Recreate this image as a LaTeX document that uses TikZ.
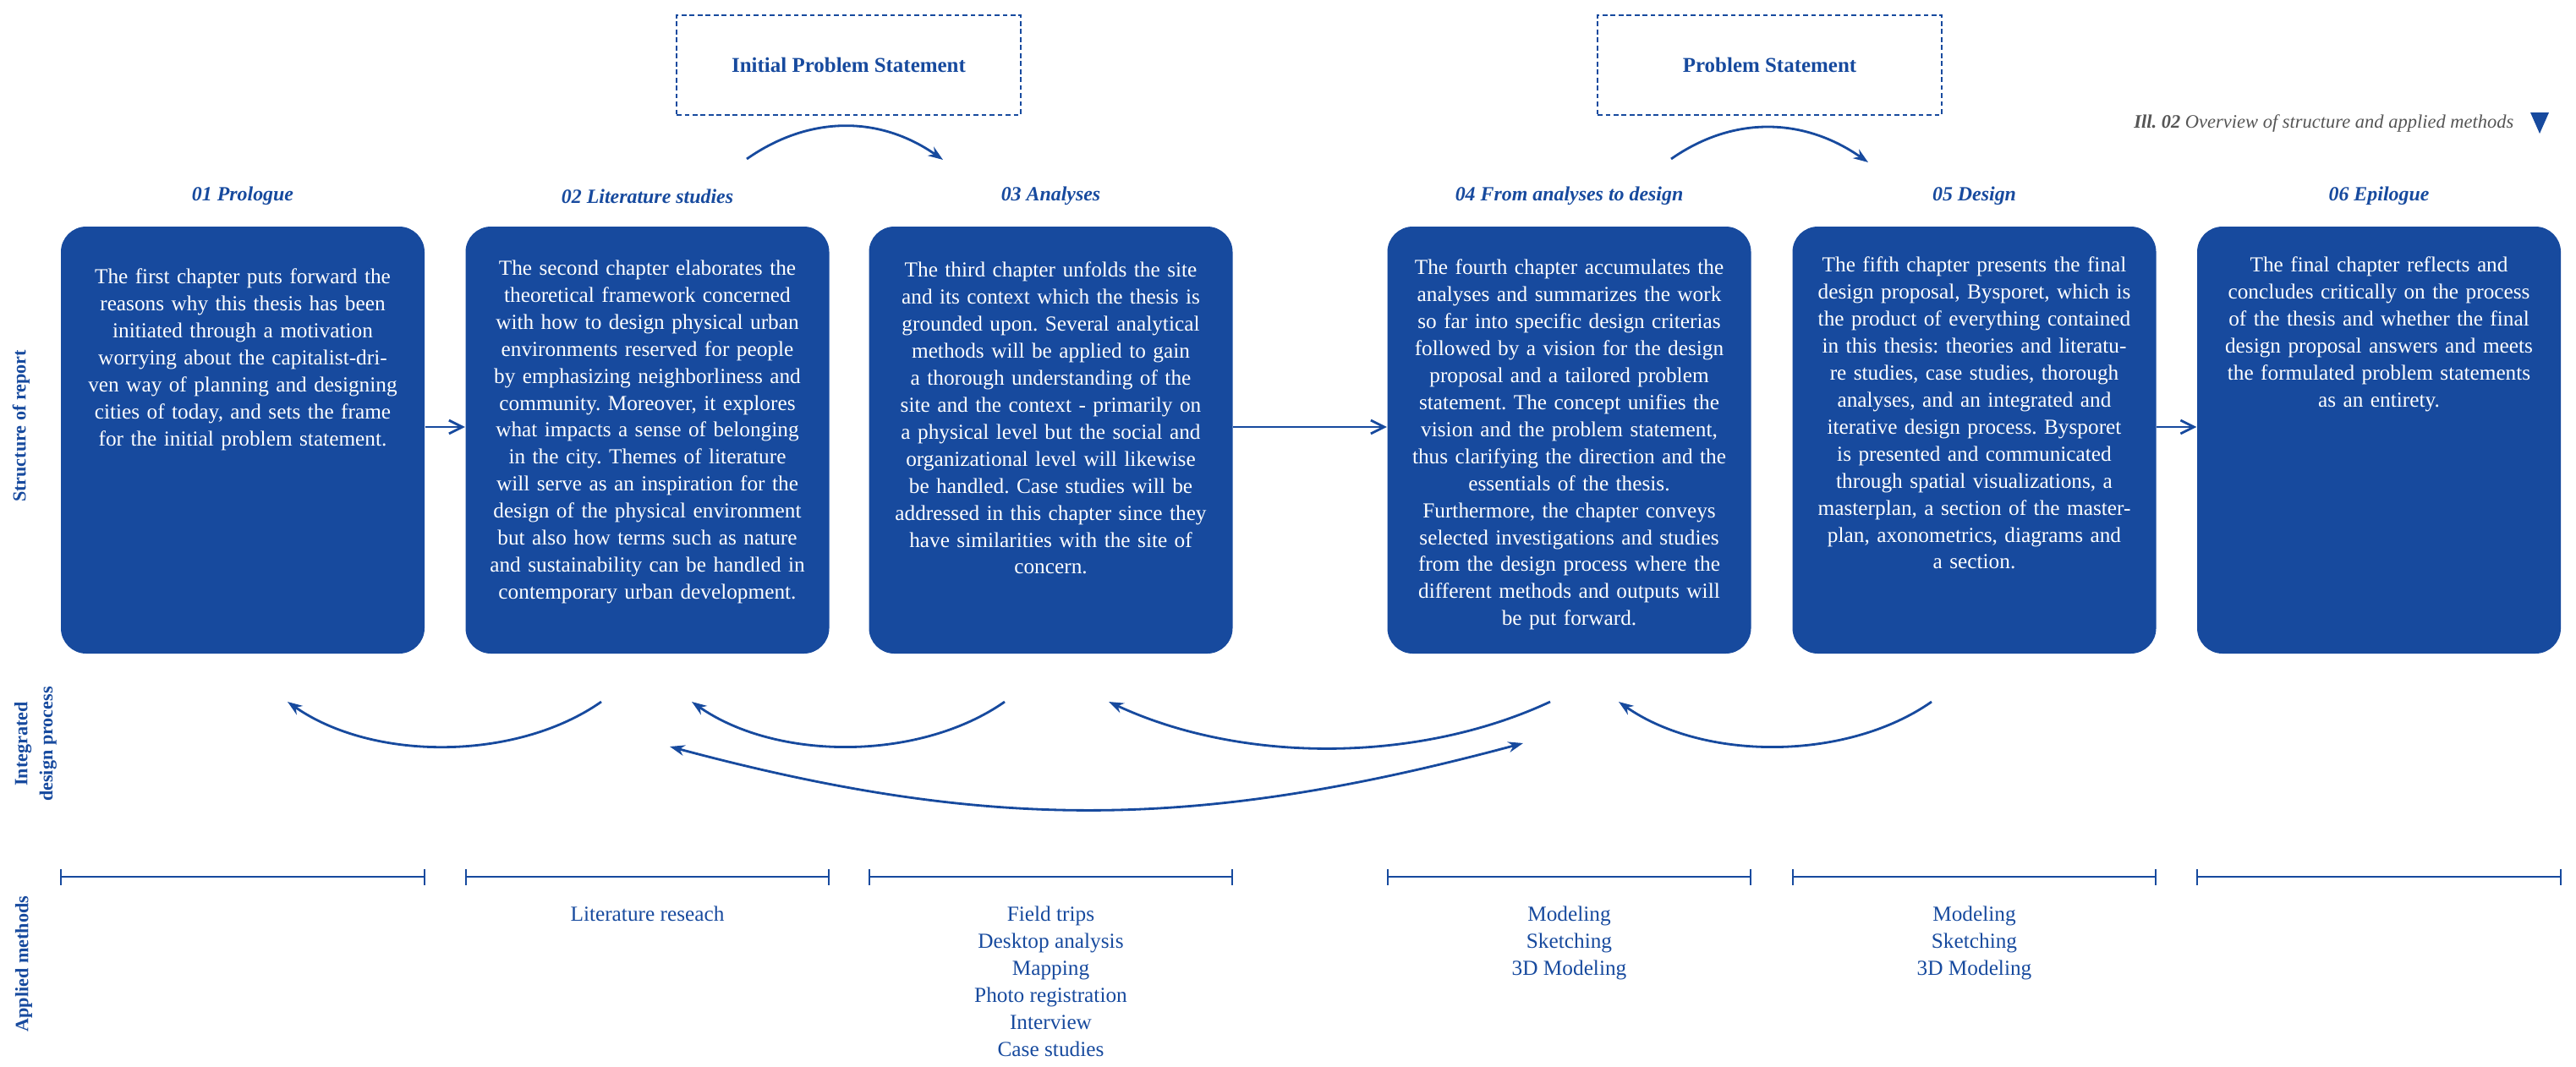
\documentclass[tikz,border=0pt]{standalone}
\usepackage{fontspec}
\setmainfont{Liberation Serif}
\usetikzlibrary{arrows.meta}
\frenchspacing

\definecolor{chapblue}{RGB}{23,74,158}
\definecolor{capgray}{RGB}{85,85,85}

\tikzset{
  chapbox/.style={fill=chapblue, rounded corners=0.3cm, minimum width=4.3cm, minimum height=5.05cm, inner sep=0pt},
  chaptext/.style={text=white, text width=4.1cm, align=center, inner sep=0pt, anchor=north, font=\fontsize{7.2}{9.09}\selectfont},
  chaphead/.style={text=chapblue, inner sep=0pt, font=\fontsize{6.8}{8}\selectfont\bfseries\itshape},
  psbox/.style={draw=chapblue, dash pattern=on 1.6pt off 1.1pt, line width=0.6pt, minimum width=4.07cm, minimum height=1.18cm, text=chapblue, font=\fontsize{7.1}{8.5}\selectfont\bfseries},
  rowlabel/.style={rotate=90, text=chapblue, align=center, inner sep=0pt, font=\fontsize{6.3}{8.5}\selectfont\bfseries},
  method/.style={text=chapblue, align=center, anchor=north, inner sep=0pt, font=\fontsize{7.2}{9.09}\selectfont},
  flow/.style={thick, chapblue, ->, >={Straight Barb[length=4.5pt, width=4.5pt]}},
  iter/.style={thick, chapblue, >={Stealth[length=5pt, width=3.6pt]}},
  span/.style={semithick, chapblue, |-|}
}

\begin{document}
\begin{tikzpicture}[scale=1]
\useasboundingbox (0,0) rectangle (30.46,-12.61);

\node[psbox] (ips) at (10.035,-0.77) {Initial Problem Statement};
\node[psbox] (ps) at (20.925,-0.77) {Problem Statement};
\coordinate (ipsa) at (8.83,-1.88);
\coordinate (ipsb) at (11.15,-1.89);
\coordinate (psa) at (19.76,-1.88);
\coordinate (psb) at (22.09,-1.92);
\draw[iter, ->] (ipsa) to[out=35, in=145] (ipsb);
\draw[iter, ->] (psa) to[out=35, in=145] (psb);

\node[anchor=base east, inner sep=0pt, text=capgray, font=\fontsize{6.4}{8}\selectfont\itshape] (cap) at (29.73,-1.51) {{\bfseries Ill. 02} Overview of structure and applied methods};
\fill[chapblue] (29.92,-1.33) -- (30.14,-1.33) -- (30.03,-1.58) -- cycle;

\node[chaphead] (h1) at (2.87,-2.32) {01 Prologue};
\node[chaphead] (h2) at (7.655,-2.32) {02 Literature studies};
\node[chaphead] (h3) at (12.425,-2.32) {03 Analyses};
\node[chaphead] (h4) at (18.555,-2.32) {04 From analyses to design};
\node[chaphead] (h5) at (23.345,-2.32) {05 Design};
\node[chaphead] (h6) at (28.13,-2.32) {06 Epilogue};

\node[chapbox] (c1) at (2.87,-5.205) {};
\node[chapbox] (c2) at (7.655,-5.205) {};
\node[chapbox] (c3) at (12.425,-5.205) {};
\node[chapbox] (c4) at (18.555,-5.205) {};
\node[chapbox] (c5) at (23.345,-5.205) {};
\node[chapbox] (c6) at (28.13,-5.205) {};

\node[chaptext] (t1) at (2.87,-3.17) {The first chapter puts forward the\\reasons why this thesis has been\\initiated through a motivation\\worrying about the capitalist-dri-\\ven way of planning and designing\\cities of today, and sets the frame\\for the initial problem statement.};
\node[chaptext] (t2) at (7.655,-3.07) {The second chapter elaborates the\\theoretical framework concerned\\with how to design physical urban\\environments reserved for people\\by emphasizing neighborliness and\\community. Moreover, it explores\\what impacts a sense of belonging\\in the city. Themes of literature\\will serve as an inspiration for the\\design of the physical environment\\but also how terms such as nature\\and sustainability can be handled in\\contemporary urban development.};
\node[chaptext] (t3) at (12.425,-3.09) {The third chapter unfolds the site\\and its context which the thesis is\\grounded upon. Several analytical\\methods will be applied to gain\\a thorough understanding of the\\site and the context - primarily on\\a physical level but the social and\\organizational level will likewise\\be handled. Case studies will be\\addressed in this chapter since they\\have similarities with the site of\\concern.};
\node[chaptext] (t4) at (18.555,-3.06) {The fourth chapter accumulates the\\analyses and summarizes the work\\so far into specific design criterias\\followed by a vision for the design\\proposal and a tailored problem\\statement. The concept unifies the\\vision and the problem statement,\\thus clarifying the direction and the\\essentials of the thesis.\\Furthermore, the chapter conveys\\selected investigations and studies\\from the design process where the\\different methods and outputs will\\be put forward.};
\node[chaptext] (t5) at (23.345,-3.03) {The fifth chapter presents the final\\design proposal, Bysporet, which is\\the product of everything contained\\in this thesis: theories and literatu-\\re studies, case studies, thorough\\analyses, and an integrated and\\iterative design process. Bysporet\\is presented and communicated\\through spatial visualizations, a\\masterplan, a section of the master-\\plan, axonometrics, diagrams and\\a section.};
\node[chaptext] (t6) at (28.13,-3.03) {The final chapter reflects and\\concludes critically on the process\\of the thesis and whether the final\\design proposal answers and meets\\the formulated problem statements\\as an entirety.};

\draw[flow] ([yshift=0.155cm]c1.east) -- ([yshift=0.155cm]c2.west);
\draw[flow] ([yshift=0.155cm]c3.east) -- ([yshift=0.155cm]c4.west);
\draw[flow] ([yshift=0.155cm]c5.east) -- ([yshift=0.155cm]c6.west);

\node[rowlabel] (lstruct) at (0.25,-5.04) {Structure of report};
\node[rowlabel] (lproc) at (0.42,-8.80) {Integrated\\design process};
\node[rowlabel] (lmeth) at (0.28,-11.40) {Applied methods};

\coordinate (a1s) at (7.11,-8.30);
\coordinate (a1e) at (3.40,-8.30);
\coordinate (a2s) at (11.88,-8.30);
\coordinate (a2e) at (8.18,-8.30);
\coordinate (a3s) at (18.33,-8.30);
\coordinate (a3e) at (13.11,-8.30);
\coordinate (a4s) at (22.84,-8.30);
\coordinate (a4e) at (19.14,-8.30);
\coordinate (bigl) at (7.92,-8.83);
\coordinate (bigr) at (18.01,-8.79);
\draw[iter, ->] (a1s) to[out=215, in=-35, looseness=0.85] (a1e);
\draw[iter, ->] (a2s) to[out=215, in=-35, looseness=0.85] (a2e);
\draw[iter, ->] (a3s) to[out=205, in=-25, looseness=0.85] (a3e);
\draw[iter, ->] (a4s) to[out=215, in=-35, looseness=0.85] (a4e);
\draw[iter, <->] (bigl) to[out=-15, in=195] (bigr);

\coordinate (mrow) at (0,-10.37);
\draw[span] (c1.west |- mrow) -- (c1.east |- mrow);
\draw[span] (c2.west |- mrow) -- (c2.east |- mrow);
\draw[span] (c3.west |- mrow) -- (c3.east |- mrow);
\draw[span] (c4.west |- mrow) -- (c4.east |- mrow);
\draw[span] (c5.west |- mrow) -- (c5.east |- mrow);
\draw[span] (c6.west |- mrow) -- (c6.east |- mrow);

\node[method] (m2) at (7.655,-10.71) {Literature reseach};
\node[method] (m3) at (12.425,-10.71) {Field trips\\Desktop analysis\\Mapping\\Photo registration\\Interview\\Case studies};
\node[method] (m4) at (18.555,-10.71) {Modeling\\Sketching\\3D Modeling};
\node[method] (m5) at (23.345,-10.71) {Modeling\\Sketching\\3D Modeling};
\end{tikzpicture}
\end{document}
